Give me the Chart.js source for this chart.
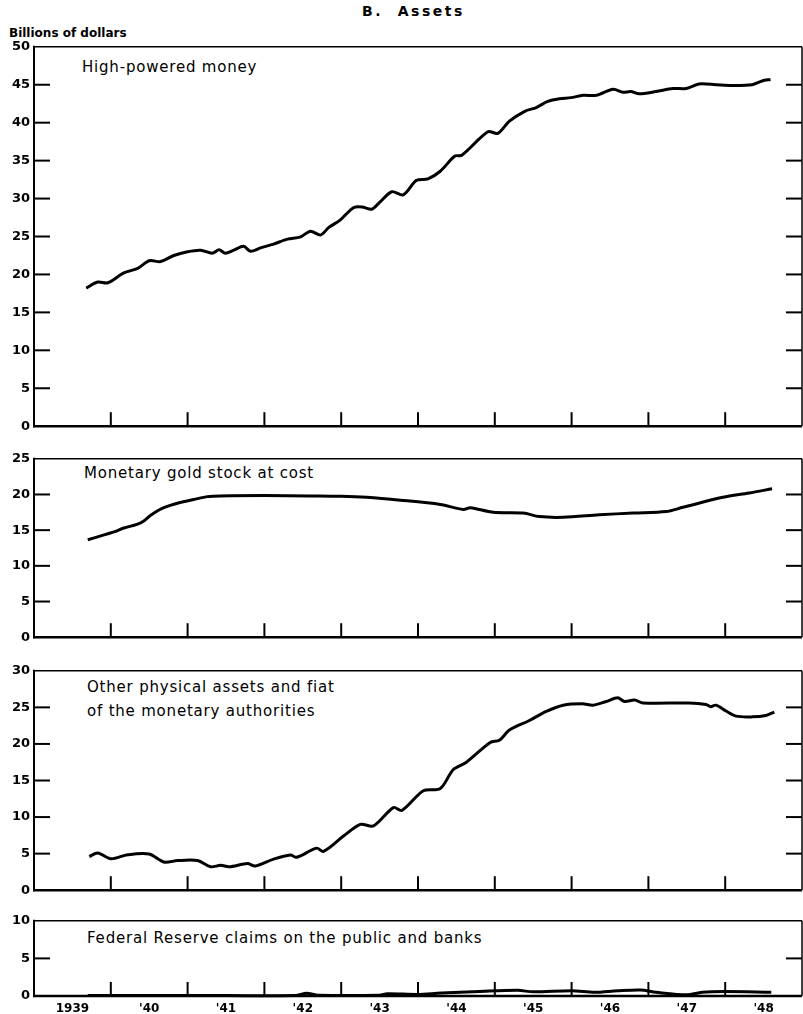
<!DOCTYPE html>
<html>
<head>
<meta charset="utf-8">
<script src="https://cdn.jsdelivr.net/npm/chart.js@4.4.1/dist/chart.umd.min.js"></script>
<style>
  body { margin: 0; background: #fff; }
  #wrap { position: relative; width: 803px; height: 1014px; overflow: hidden; background: #fff; }
  canvas { position: absolute; left: 0; }
  .lbl { position: absolute; font-family: 'DejaVu Sans', sans-serif; color: #000; white-space: pre; }
  .panel { font-size: 15px; letter-spacing: 0.8px; line-height: 24px; }
</style>
</head>
<body>
<div id="wrap">
  <div class="lbl" style="left:362px; top:3px; font-size:14px; font-weight:bold; letter-spacing:2.5px;">B.  Assets</div>
  <div class="lbl" style="left:9px; top:26px; font-size:12px; font-weight:bold;">Billions of dollars</div>
  <div class="lbl panel" style="left:82px; top:55px;">High-powered money</div>
  <div class="lbl panel" style="left:84px; top:461px;">Monetary gold stock at cost</div>
  <div class="lbl panel" style="left:87px; top:675px;">Other physical assets and fiat<br>of the monetary authorities</div>
  <div class="lbl panel" style="left:87px; top:926px;">Federal Reserve claims on the public and banks</div>
  <canvas id="p1"></canvas>
  <canvas id="p2"></canvas>
  <canvas id="p3"></canvas>
  <canvas id="p4"></canvas>
</div>
<script>
// x positions are decimal years
const labelYears = [1939.5, 1940.5, 1941.5, 1942.5, 1943.5, 1944.5, 1945.5, 1946.5, 1947.5, 1948.5];
const xTickLabels = ["1939", "'40", "'41", "'42", "'43", "'44", "'45", "'46", "'47", "'48"];
const yearMarks = [1940, 1941, 1942, 1943, 1944, 1945, 1946, 1947, 1948];

const hpmYears = [1939.68, 1939.83, 1939.96, 1940.17, 1940.35, 1940.5, 1940.65, 1940.82, 1941.0, 1941.17,
  1941.32, 1941.41, 1941.49, 1941.6, 1941.73, 1941.82, 1941.95, 1942.12, 1942.3, 1942.47,
  1942.6, 1942.73, 1942.84, 1942.99, 1943.16, 1943.27, 1943.4, 1943.5, 1943.66, 1943.81,
  1943.98, 1944.13, 1944.29, 1944.48, 1944.57, 1944.91, 1945.04, 1945.19, 1945.39, 1945.54,
  1945.69, 1945.84, 1945.99, 1946.15, 1946.32, 1946.54, 1946.67, 1946.77, 1946.88, 1947.1,
  1947.32, 1947.49, 1947.66, 1947.88, 1948.09, 1948.35, 1948.48, 1948.59];
const highPowered = [18.2, 19.0, 18.9, 20.2, 20.8, 21.8, 21.7, 22.5, 23.0, 23.2,
  22.8, 23.25, 22.8, 23.2, 23.7, 23.05, 23.5, 24.0, 24.65, 24.96,
  25.7, 25.2, 26.2, 27.2, 28.8, 28.9, 28.6, 29.5, 30.9, 30.5,
  32.4, 32.6, 33.6, 35.6, 35.7, 38.8, 38.6, 40.2, 41.5, 42.0,
  42.8, 43.15, 43.3, 43.6, 43.6, 44.4, 44.0, 44.1, 43.8, 44.1,
  44.5, 44.5, 45.1, 45.0, 44.9, 45.0, 45.5, 45.7];

const goldYears = [1939.7, 1939.87, 1940.04, 1940.17, 1940.34, 1940.43, 1940.52, 1940.69, 1940.91, 1941.08,
  1941.26, 1941.43, 1942.0, 1942.6, 1943.0, 1943.33, 1943.77, 1944.29, 1944.59, 1944.68,
  1944.98, 1945.37, 1945.58, 1945.89, 1946.36, 1946.8, 1947.23, 1947.45, 1947.97, 1948.31, 1948.61];
const goldStock = [13.65, 14.2, 14.75, 15.3, 15.8, 16.3, 17.1, 18.15, 18.9, 19.3,
  19.7, 19.8, 19.85, 19.8, 19.75, 19.6, 19.2, 18.6, 17.9, 18.15,
  17.5, 17.4, 16.9, 16.8, 17.15, 17.4, 17.6, 18.2, 19.6, 20.2, 20.8];

const otherYears = [1939.72, 1939.83, 1940.0, 1940.22, 1940.5, 1940.69, 1940.87, 1941.13, 1941.3, 1941.43,
  1941.54, 1941.78, 1941.88, 1942.12, 1942.34, 1942.42, 1942.68, 1942.77, 1943.03, 1943.25,
  1943.42, 1943.68, 1943.79, 1944.07, 1944.29, 1944.46, 1944.63, 1944.94, 1945.06, 1945.19,
  1945.45, 1945.67, 1945.89, 1946.14, 1946.28, 1946.45, 1946.6, 1946.69, 1946.82, 1946.93,
  1947.53, 1947.75, 1947.81, 1947.88, 1948.01, 1948.14, 1948.35, 1948.53, 1948.64];
const otherAssets = [4.6, 5.1, 4.3, 4.85, 4.95, 3.85, 4.05, 4.05, 3.2, 3.4,
  3.2, 3.65, 3.3, 4.25, 4.8, 4.5, 5.75, 5.3, 7.4, 9.0,
  8.8, 11.3, 10.9, 13.6, 13.9, 16.5, 17.5, 20.2, 20.5, 21.9,
  23.2, 24.45, 25.3, 25.5, 25.3, 25.8, 26.3, 25.8, 26.0, 25.6,
  25.6, 25.4, 25.1, 25.3, 24.5, 23.8, 23.7, 23.9, 24.35];

const fedYears = [1939.7, 1940.5, 1941.5, 1942.4, 1942.55, 1942.7, 1943.5, 1943.6, 1944.0, 1944.3,
  1944.8, 1945.3, 1945.5, 1946.0, 1946.3, 1946.6, 1946.9, 1947.1, 1947.5, 1947.7, 1948.0, 1948.6];
const fedClaims = [0.05, 0.05, 0.05, 0.05, 0.35, 0.1, 0.1, 0.3, 0.2, 0.4,
  0.6, 0.75, 0.55, 0.7, 0.5, 0.7, 0.8, 0.5, 0.15, 0.5, 0.6, 0.5];

Chart.defaults.font.family = "'DejaVu Sans', sans-serif";
Chart.defaults.color = '#000';

// box, inward y ticks on both sides, inward year marks along the bottom
const frame = {
  id: 'frame',
  beforeDatasetsDraw(chart) {
    const { ctx, chartArea: a, scales } = chart;
    ctx.save();
    ctx.strokeStyle = '#000';
    ctx.lineCap = 'butt';
    const seg = (x1, y1, x2, y2, w) => {
      ctx.lineWidth = w;
      ctx.beginPath(); ctx.moveTo(x1, y1); ctx.lineTo(x2, y2); ctx.stroke();
    };
    seg(a.left, a.top, a.right, a.top, 1.5);
    seg(a.right, a.top, a.right, a.bottom, 1.5);
    seg(a.left, a.top - 1, a.left, a.bottom + 1, 2);
    seg(a.left - 1, a.bottom, a.right, a.bottom, 2.5);
    scales.y.ticks.forEach(t => {
      if (t.value <= scales.y.min || t.value >= scales.y.max) return;
      const y = scales.y.getPixelForValue(t.value);
      seg(a.left, y, a.left + 16, y, 2);
      seg(a.right - 16, y, a.right, y, 2);
    });
    yearMarks.forEach(v => {
      const x = scales.x.getPixelForValue(v);
      seg(x, a.bottom, x, a.bottom - 14, 2);
    });
    ctx.restore();
  }
};

function makePanel(id, top, bottom, yMax, xs, ys, showX) {
  const padTop = 8;
  const padBottom = showX ? 0 : 3;
  const xHeight = showX ? 18 : 0;
  const cv = document.getElementById(id);
  cv.width = 803;
  cv.height = (bottom - top) + padTop + padBottom + xHeight;
  cv.style.top = (top - padTop) + 'px';
  return new Chart(cv, {
    type: 'line',
    data: {
      datasets: [{
        data: xs.map((x, i) => ({ x: x, y: ys[i] })),
        borderColor: '#000',
        borderWidth: 3,
        pointRadius: 0,
        tension: 0.3,
        clip: 6
      }]
    },
    options: {
      responsive: false,
      animation: false,
      layout: { padding: { top: padTop, right: 1, bottom: padBottom, left: 0 } },
      plugins: { legend: { display: false }, tooltip: { enabled: false } },
      scales: {
        x: {
          type: 'linear', min: 1939, max: 1949,
          grid: { display: false, drawTicks: false },
          border: { display: false },
          afterBuildTicks: s => { s.ticks = labelYears.map(v => ({ value: v })); },
          ticks: {
            display: showX, autoSkip: false, maxRotation: 0, padding: 6,
            font: { size: 12, weight: 'bold' },
            callback: (v, i) => xTickLabels[i]
          },
          afterFit: s => { s.height = xHeight; }
        },
        y: {
          min: 0, max: yMax,
          grid: { display: false, drawTicks: false },
          border: { display: false },
          ticks: { stepSize: 5, padding: 4, font: { size: 13, weight: 'bold' } },
          afterFit: s => { s.width = 34; }
        }
      }
    },
    plugins: [frame]
  });
}

makePanel('p1', 43, 435, 50, hpmYears, highPowered, false);
makePanel('p2', 455, 646, 25, goldYears, goldStock, false);
makePanel('p3', 667, 899, 30, otherYears, otherAssets, false);
makePanel('p4', 917, 996, 10, fedYears, fedClaims, true);
</script>
</body>
</html>
